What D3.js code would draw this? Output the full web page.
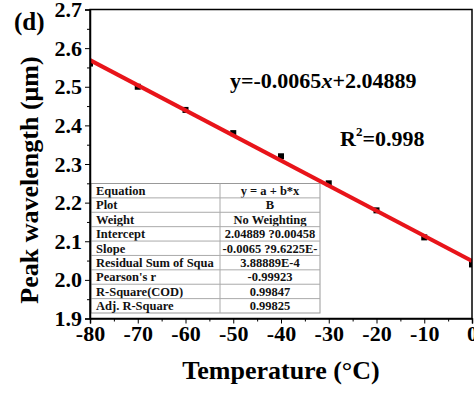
<!DOCTYPE html>
<html><head><meta charset="utf-8">
<script src="https://cdn.jsdelivr.net/npm/d3@7/dist/d3.min.js"></script>
<style>body{margin:0;background:#fff}svg{display:block}text{font-family:"Liberation Serif","Times New Roman",serif;font-weight:bold}</style>
</head><body><svg id="c" width="474" height="394"></svg>
<script>
const temperatures = [-80, -70, -60, -50, -40, -30, -20, -10, 0];
const wavelengths = [2.56, 2.50, 2.44, 2.38, 2.32, 2.25, 2.18, 2.11, 2.04];
const fitSlope = -0.0065;
const fitIntercept = 2.04889;
const xTicks = [-80, -70, -60, -50, -40, -30, -20, -10, 0];
const yTicks = [1.9, 2.0, 2.1, 2.2, 2.3, 2.4, 2.5, 2.6, 2.7];
const tableLabels = ["Equation","Plot","Weight","Intercept","Slope","Residual Sum of Squa","Pearson's r","R-Square(COD)","Adj. R-Square"];
const tableValues = ["y = a + b*x","B","No Weighting","2.04889 ?0.00458","-0.0065 ?9.6225E-","3.88889E-4","-0.99923","0.99847","0.99825"];

const svg = d3.select("#c");
const L = 90, R = 472, T = 9.5, B = 318.5;
const x = d3.scaleLinear().domain([-80, 0]).range([L, R]);
const y = d3.scaleLinear().domain([1.9, 2.7]).range([B, T]);

svg.append("clipPath").attr("id","clip").append("rect").attr("x",L).attr("y",T).attr("width",R-L).attr("height",B-T);

// table
const tL = 91, tR = 320, tT = 183.5, tB = 313, tMid = 220;
const rowH = (tB - tT) / tableLabels.length;
const tg = svg.append("g");
tg.append("rect").attr("x",tL).attr("y",tT).attr("width",tR-tL).attr("height",tB-tT).attr("fill","#fff").attr("stroke","#999").attr("stroke-width",1);
tableLabels.forEach((lab,i)=>{
  if(i>0) tg.append("line").attr("x1",tL).attr("x2",tR).attr("y1",tT+i*rowH).attr("y2",tT+i*rowH).attr("stroke","#aaa").attr("stroke-width",1);
  tg.append("text").attr("x",tL+5).attr("y",tT+i*rowH+rowH/2).attr("dy","0.35em").attr("font-size",12.5).attr("fill","#111").text(lab);
  tg.append("text").attr("x",(tMid+tR)/2).attr("y",tT+i*rowH+rowH/2).attr("dy","0.35em").attr("text-anchor","middle").attr("font-size",12.5).attr("fill","#111").text(tableValues[i]);
});
tg.append("line").attr("x1",tMid).attr("x2",tMid).attr("y1",tT).attr("y2",tB).attr("stroke","#aaa").attr("stroke-width",1);

// data + fit
const plot = svg.append("g").attr("clip-path","url(#clip)");
plot.selectAll("rect.pt").data(temperatures).enter().append("rect").attr("class","pt")
  .attr("x",(d)=>x(d)-3).attr("y",(d,i)=>y(wavelengths[i])-3).attr("width",6).attr("height",6).attr("fill","#000");
const fitLine = d3.line().x(d=>x(d)).y(d=>y(fitIntercept + fitSlope*d));
plot.append("path").datum([-80, 0]).attr("d",fitLine).attr("stroke","#e8141a").attr("stroke-width",4).attr("fill","none");

// frame
svg.append("rect").attr("x",L).attr("y",T).attr("width",R-L).attr("height",B-T).attr("fill","none").attr("stroke","#000").attr("stroke-width",1.5);

// axes
const xAxis = d3.axisBottom(x).tickValues(xTicks).tickFormat(d=>String(d)).tickSize(5).tickPadding(2);
const gx = svg.append("g").attr("transform",`translate(0,${B})`).call(xAxis);
gx.select(".domain").attr("stroke-width",1.5);
gx.selectAll("text").attr("font-size",22).attr("fill","#000");
const gxm = svg.append("g").attr("transform",`translate(0,${B})`).call(d3.axisBottom(x).tickValues(xTicks.slice(0,-1).map(v=>v+5)).tickFormat("").tickSize(3));
gxm.select(".domain").remove();

const yAxis = d3.axisLeft(y).tickValues(yTicks).tickFormat(d3.format(".1f")).tickSize(5).tickPadding(3);
const gy = svg.append("g").attr("transform",`translate(${L},0)`).call(yAxis);
gy.select(".domain").attr("stroke-width",1.5);
gy.selectAll("text").attr("font-size",22).attr("fill","#000");
const gym = svg.append("g").attr("transform",`translate(${L},0)`).call(d3.axisLeft(y).tickValues(yTicks.slice(0,-1).map(v=>v+0.05)).tickFormat("").tickSize(3));
gym.select(".domain").remove();

// titles
svg.append("text").attr("x",281).attr("y",379).attr("text-anchor","middle").attr("font-size",26).text("Temperature (°C)");
svg.append("text").attr("transform","translate(38,180) rotate(-90)").attr("text-anchor","middle").attr("font-size",26).text("Peak wavelength (μm)");
svg.append("text").attr("x",14).attr("y",30).attr("font-size",25).text("(d)");

const eq = svg.append("text").attr("x",230).attr("y",88).attr("font-size",22);
eq.append("tspan").text("y=-0.0065");
eq.append("tspan").attr("font-style","italic").text("x");
eq.append("tspan").text("+2.04889");
const r2 = svg.append("text").attr("x",340).attr("y",146).attr("font-size",22);
r2.append("tspan").text("R");
r2.append("tspan").attr("font-size",13).attr("dy",-10).text("2");
r2.append("tspan").attr("dy",10).text("=0.998");
</script></body></html>
